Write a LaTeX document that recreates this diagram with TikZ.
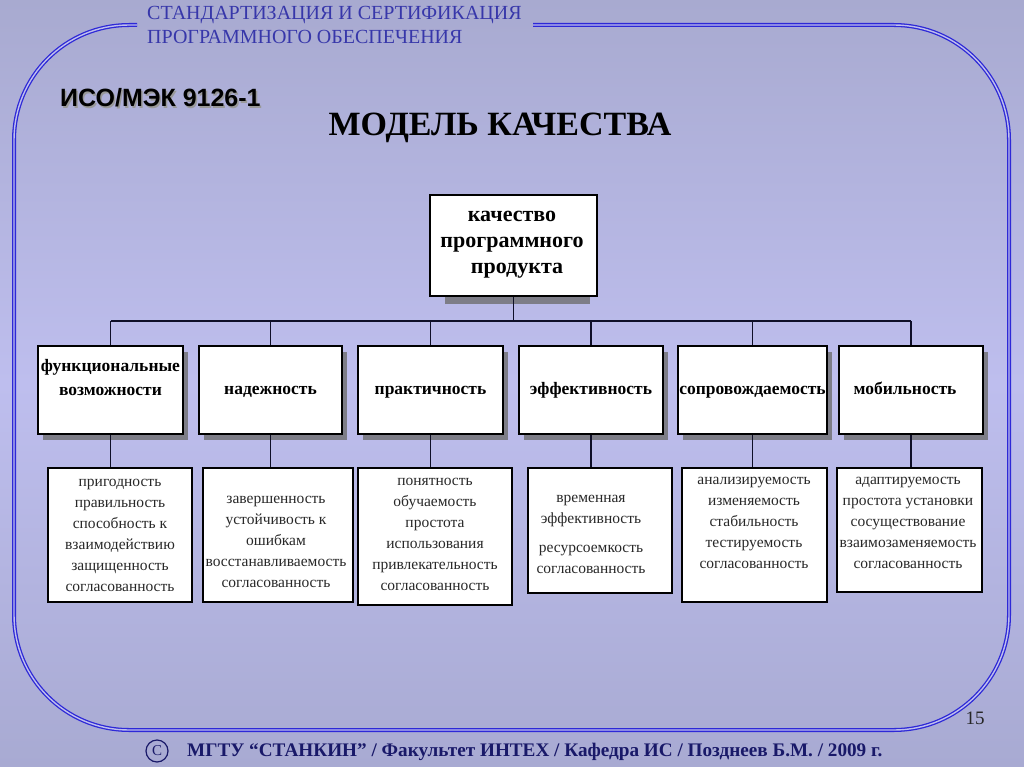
\documentclass[tikz,border=0pt]{standalone}
\usepackage{fontspec}
\setmainfont{Liberation Serif}
\newfontfamily\arialfont{Liberation Sans}
\usetikzlibrary{shadows}
\definecolor{bgtop}{RGB}{168,170,208}
\definecolor{bgmid}{RGB}{190,190,238}
\definecolor{bgbot}{RGB}{168,170,210}
\definecolor{frameblue}{RGB}{45,40,215}
\definecolor{titleblue}{RGB}{55,55,170}
\definecolor{navy}{RGB}{25,25,105}
\definecolor{shadowgray}{RGB}{125,125,135}
\definecolor{linecol}{RGB}{15,15,40}
\definecolor{txtgray}{RGB}{40,40,40}
\tikzset{
  topbox/.style={draw=black, line width=1.8pt, fill=white, minimum width=167pt, minimum height=101pt, inner sep=0pt},
  l2box/.style={draw=black, line width=1.8pt, fill=white, minimum width=145pt, minimum height=88pt, inner sep=0pt,
     align=center, font=\fontsize{17.5}{24}\selectfont\bfseries, text=black,
     execute at begin node={\strut},
     drop shadow={shadow xshift=5pt, shadow yshift=-6pt, fill=shadowgray, opacity=1}},
  l3box/.style={draw=black, line width=1.6pt, fill=white, inner sep=0pt},
  l3text/.style={align=center, font=\fontsize{15.5}{21}\selectfont, text=txtgray, inner sep=0pt},
  conn/.style={draw=linecol, line width=1.6pt},
  frameline/.style={draw=frameblue, line width=1.3pt, double=bgmid, double distance=1.4pt, rounded corners=115pt}
}
\begin{document}
\begin{tikzpicture}[x=1pt, y=-1pt]
\useasboundingbox (0,0) rectangle (1024,767);
% background
\shade[top color=bgtop, bottom color=bgbot, middle color=bgmid] (0,0) rectangle (1024,767);
% frame
\draw[frameline] (137,25) -- (14,25) -- (14,730) -- (1009,730) -- (1009,25) -- (533,25);
% header texts
\node[anchor=north west, align=left, inner sep=0pt, text=titleblue, font=\fontsize{20}{24}\selectfont] (hdr) at (147,6)
  {СТАНДАРТИЗАЦИЯ И СЕРТИФИКАЦИЯ\\ПРОГРАММНОГО ОБЕСПЕЧЕНИЯ};
\node[anchor=west, inner sep=0pt, text=black!40, font=\arialfont\fontsize{25}{28}\selectfont\bfseries] (isoshadow) at (61.5,99.5)
  {ИСО/МЭК 9126-1};
\node[anchor=west, inner sep=0pt, text=black, font=\arialfont\fontsize{25}{28}\selectfont\bfseries] (iso) at (60,98)
  {ИСО/МЭК 9126-1};
\node[inner sep=0pt, text=black, font=\fontsize{34}{38}\selectfont\bfseries] (title) at (500,128) {МОДЕЛЬ КАЧЕСТВА};
% top box
\fill[shadowgray] (445,296) rectangle (590,304);
\node[topbox] (top) at (513.5,245.5) {};
\node[align=center, inner sep=0pt, font=\fontsize{22}{26}\selectfont\bfseries] (toptext) at (512,245)
  {качество\\программного\\\hspace*{10pt}продукта};
% level 2
\node[l2box] (a) at (110.5,390) {функциональные\\возможности\\[-6pt]\mbox{}};
\node[l2box, minimum width=143pt] (b) at (270.5,390) {надежность};
\node[l2box] (c) at (430.5,390) {практичность};
\node[l2box, minimum width=144pt] (d) at (591,390) {эффективность};
\node[l2box, minimum width=149pt] (e) at (752.5,390) {сопровождаемость};
\node[l2box, minimum width=144pt] (f) at (911,390) {\hspace*{-12pt}мобильность};
% connectors top -> level 2
\coordinate (bus) at (0,321);
\draw[conn] (top.south) -- (top.south |- bus);
\draw[conn] (a.north |- bus) -- (f.north |- bus);
\foreach \n in {a,b,c,d,e,f} {\draw[conn] (\n.north |- bus) -- (\n.north);}
% level 3 boxes
\node[l3box, minimum width=144pt, minimum height=134pt] (a3) at (120,535) {};
\node[l3box, minimum width=150pt, minimum height=134pt] (b3) at (278,535) {};
\node[l3box, minimum width=154pt, minimum height=137pt] (c3) at (435,536.5) {};
\node[l3box, minimum width=144pt, minimum height=125pt] (d3) at (600,530.5) {};
\node[l3box, minimum width=145pt, minimum height=134pt] (e3) at (754.5,535) {};
\node[l3box, minimum width=145pt, minimum height=124pt] (f3) at (909.5,530) {};
% connectors level 2 -> level 3
\foreach \n in {a,b,c,d,e,f} {\draw[conn] (\n.south) -- (\n.south |- \n3.north);}
% level 3 texts
\node[l3text] (a3t) at (120,535.5) {пригодность\\правильность\\способность к\\взаимодействию\\защищенность\\согласованность};
\node[l3text] (b3t) at (276,541.5) {завершенность\\устойчивость к\\ошибкам\\восстанавливаемость\\согласованность};
\node[l3text] (c3t) at (435,534.5) {понятность\\обучаемость\\простота\\использования\\привлекательность\\согласованность};
\node[l3text] (d3t) at (591,534.5) {временная\\эффективность\\[8pt]ресурсоемкость\\согласованность};
\node[l3text] (e3t) at (754,523) {анализируемость\\изменяемость\\стабильность\\тестируемость\\согласованность};
\node[l3text] (f3t) at (908,523) {адаптируемость\\простота установки\\сосуществование\\взаимозаменяемость\\согласованность};
% page number
\node[inner sep=0pt, text=black!85, font=\fontsize{19}{22}\selectfont] (pnum) at (975,718) {15};
% footer
\node[circle, draw=navy, line width=1.2pt, minimum size=22pt, inner sep=0pt, text=navy, font=\fontsize{15}{16}\selectfont] (copy) at (157,751) {C};
\node[anchor=west, inner sep=0pt, text=navy, font=\fontsize{19.2}{21}\selectfont\bfseries] (foot) at (187,752)
  {МГТУ “СТАНКИН” / Факультет ИНТЕХ / Кафедра ИС / Позднеев Б.М. / 2009 г.};
\end{tikzpicture}
\end{document}
